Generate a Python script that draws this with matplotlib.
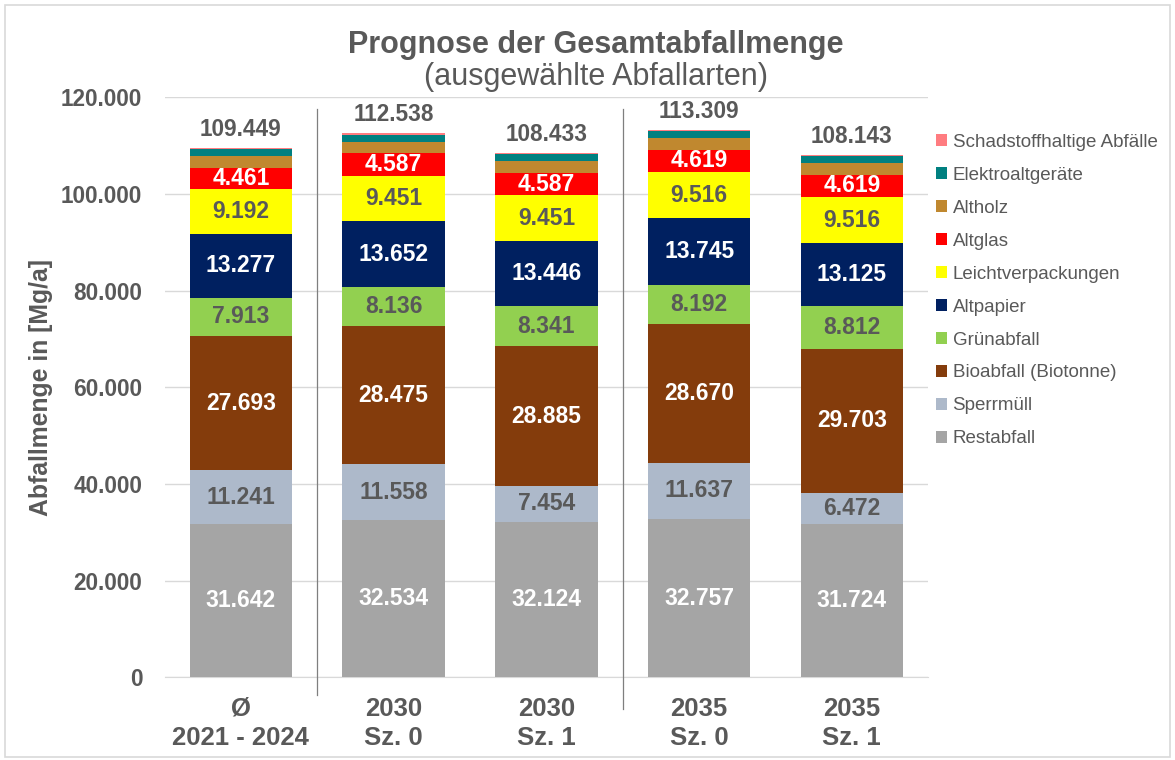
import numpy as np
import matplotlib
matplotlib.use("Agg")
import matplotlib.pyplot as plt
from matplotlib.patches import Patch, Rectangle
from matplotlib.ticker import FuncFormatter
import matplotlib.transforms as mtransforms

plt.rcParams['font.family'] = ['Liberation Sans', 'DejaVu Sans']

categories = ['Ø\n2021 - 2024', '2030\nSz. 0', '2030\nSz. 1', '2035\nSz. 0', '2035\nSz. 1']

# series, bottom to top
restabfall = [31642, 32534, 32124, 32757, 31724]
sperrmuell = [11241, 11558, 7454, 11637, 6472]
bioabfall = [27693, 28475, 28885, 28670, 29703]
gruenabfall = [7913, 8136, 8341, 8192, 8812]
altpapier = [13277, 13652, 13446, 13745, 13125]
leichtverpackungen = [9192, 9451, 9451, 9516, 9516]
altglas = [4461, 4587, 4587, 4619, 4619]
altholz = [2430, 2445, 2445, 2473, 2472]
elektro = [1400, 1450, 1450, 1450, 1450]
schadstoff = [200, 250, 250, 250, 250]
totals = [109449, 112538, 108433, 113309, 108143]

series = [
    ('Restabfall', restabfall, '#A5A5A5', 'white'),
    ('Sperrmüll', sperrmuell, '#ADB9CA', '#595959'),
    ('Bioabfall (Biotonne)', bioabfall, '#843C0C', 'white'),
    ('Grünabfall', gruenabfall, '#92D050', '#595959'),
    ('Altpapier', altpapier, '#002060', 'white'),
    ('Leichtverpackungen', leichtverpackungen, '#FFFF00', '#595959'),
    ('Altglas', altglas, '#FF0000', 'white'),
    ('Altholz', altholz, '#C0882F', None),
    ('Elektroaltgeräte', elektro, '#008080', None),
    ('Schadstoffhaltige Abfälle', schadstoff, '#FF7C80', None),
]

grey = '#595959'


def fmt(v):
    return f'{int(v):,}'.replace(',', '.')


fig = plt.figure(figsize=(11.75, 7.6), dpi=100)
ax = fig.add_axes([0.140, 0.109, 0.650, 0.763])

x = np.arange(len(categories))
bottom = np.zeros(len(categories))
handles = []
for name, vals, color, tcol in series:
    vals = np.array(vals, dtype=float)
    ax.bar(x, vals, 0.67, bottom=bottom, color=color, zorder=3)
    if tcol is not None:
        for xi, b, v in zip(x, bottom, vals):
            ax.text(xi, b + v / 2, fmt(v), ha='center', va='center',
                    color=tcol, fontsize=16.5, fontweight='bold', zorder=4)
    handles.append(Patch(facecolor=color, label=name))
    bottom += vals

for xi, t in zip(x, totals):
    ax.annotate(fmt(t), (xi, bottom[xi]), xytext=(0, 5),
                textcoords='offset points', ha='center', va='bottom',
                color=grey, fontsize=16.3, fontweight='bold')

ax.set_xlim(-0.5, len(categories) - 0.5)
ax.set_ylim(0, 120000)
ax.set_yticks(np.arange(0, 120001, 20000))
ax.yaxis.set_major_formatter(FuncFormatter(lambda v, p: fmt(v)))
ax.set_xticks(x)
ax.set_xticklabels(categories, linespacing=1.3)
ax.tick_params(axis='y', length=0, labelsize=16.3, labelcolor=grey, pad=16)
ax.tick_params(axis='x', length=0, labelsize=18.5, labelcolor=grey, pad=14)
for lbl in ax.get_xticklabels() + ax.get_yticklabels():
    lbl.set_fontweight('bold')
ax.grid(axis='y', color='#D9D9D9', linewidth=1, zorder=0)
for s in ['top', 'right', 'left']:
    ax.spines[s].set_visible(False)
ax.spines['bottom'].set_color('#D9D9D9')
ax.set_ylabel('Abfallmenge in [Mg/a]', fontsize=17.8, fontweight='bold', color=grey, labelpad=6)

# group separators
trans = mtransforms.blended_transform_factory(ax.transData, ax.transAxes)
ax.plot([0.5, 0.5], [-0.03, 0.98], transform=trans, color='#7F7F7F', lw=0.9, clip_on=False, zorder=5)
ax.plot([2.5, 2.5], [-0.055, 0.98], transform=trans, color='#7F7F7F', lw=0.9, clip_on=False, zorder=5)

fig.text(0.507, 0.941, 'Prognose der Gesamtabfallmenge', ha='center', va='center',
         fontsize=22, fontweight='bold', color=grey)
fig.text(0.507, 0.899, '(ausgewählte Abfallarten)', ha='center', va='center',
         fontsize=22, color=grey)

fig.legend(handles=handles[::-1], loc='upper left', bbox_to_anchor=(0.782, 0.846),
           frameon=False, fontsize=13.5, labelcolor=grey, handlelength=0.6, handleheight=0.6,
           handletextpad=0.3, labelspacing=0.85)

fig.patches.append(Rectangle((0.004, 0.004), 0.992, 0.99, transform=fig.transFigure,
                             fill=False, edgecolor='#D9D9D9', lw=1.2))

fig.savefig('out.png', dpi=100)
